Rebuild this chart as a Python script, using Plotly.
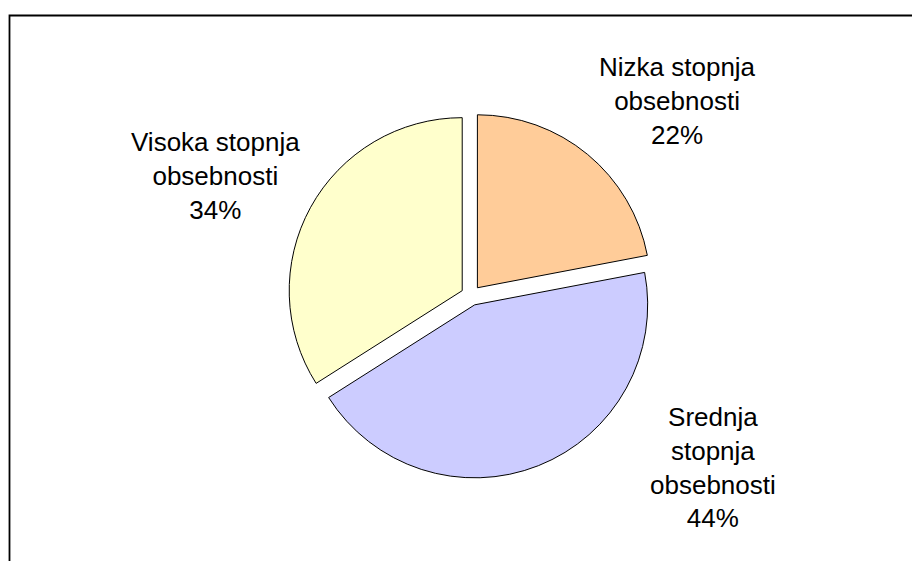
import plotly.graph_objects as go

labels = ["Nizka stopnja obsebnosti", "Srednja stopnja obsebnosti", "Visoka stopnja obsebnosti"]
label_lines = [["Nizka stopnja", "obsebnosti"], ["Srednja", "stopnja", "obsebnosti"], ["Visoka stopnja", "obsebnosti"]]
values = [22, 44, 34]
colors = ["#FFCC99", "#CCCCFF", "#FFFFCC"]

W, H = 912, 561
cx, cy, r, pull = 471, 295.5, 173, 0.058
half = r * (1 + pull)

fig = go.Figure(go.Pie(
    labels=labels, values=values, sort=False, direction="clockwise", rotation=0,
    marker=dict(colors=colors, line=dict(color="black", width=1)),
    pull=[pull] * len(values), textinfo="none", hoverinfo="label+percent",
    domain=dict(x=[(cx - half) / W, (cx + half) / W], y=[(H - cy - half) / H, (H - cy + half) / H]),
    showlegend=False,
))

label_pos = [(677, 101), (713, 467), (215, 176)]
total = sum(values)
annotations = []
for lines, v, (px, py) in zip(label_lines, values, label_pos):
    txt = "<br>".join(lines + [f"{round(v / total * 100)}%"])
    annotations.append(dict(text=txt, x=px / W, y=1 - py / H, xref="paper", yref="paper",
                            showarrow=False, xanchor="center", yanchor="middle", align="center",
                            font=dict(family="Liberation Sans, Arial", size=26, color="black")))

fig.update_layout(
    width=W, height=H, margin=dict(l=0, r=0, t=0, b=0),
    paper_bgcolor="white", plot_bgcolor="white",
    annotations=annotations,
    shapes=[dict(type="rect", xref="paper", yref="paper", x0=9.5 / W, x1=1.2, y0=-0.2, y1=1 - 15.5 / H,
                 line=dict(color="black", width=1.8), fillcolor="rgba(0,0,0,0)", layer="above")],
)

fig.write_html("out.html", config={"displayModeBar": False},
               post_script="document.body.style.margin='0';document.body.style.overflow='hidden';")
